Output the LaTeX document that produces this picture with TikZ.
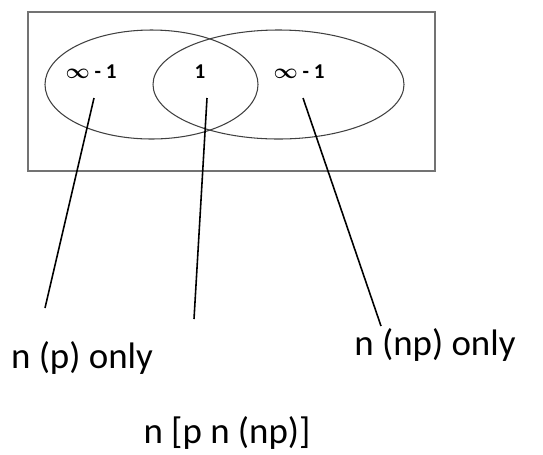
\documentclass[tikz,border=0pt]{standalone}
\usepackage{amsmath, amssymb, bm}
\usepackage{fontspec}
\setmainfont{Carlito}
\usepackage{tikz}
\usetikzlibrary{positioning, calc}

\begin{document}
\begin{tikzpicture}[x=0.02cm, y=-0.02cm,
    setline/.style={draw=black!75, line width=0.6pt},
    regionlabel/.style={font=\fontsize{12}{14}\selectfont\bfseries, inner sep=1pt},
    caption/.style={font=\fontsize{21}{24}\selectfont, inner sep=1pt},
    pointer/.style={draw=black, line width=0.9pt}]
  \useasboundingbox (0,0) rectangle (543,454);
  \draw[draw=black!55, line width=0.7pt] (28,12) rectangle (435,171);
  \draw[setline] (151.5,84.5) ellipse [x radius=106.5, y radius=54.5];
  \draw[setline] (278.5,84.5) ellipse [x radius=125.5, y radius=54.5];

  \node[regionlabel] (ponly) at (91,72) {$\bm{\infty}$ - 1};
  \node[regionlabel] (both) at (200,72) {1};
  \node[regionlabel] (nponly) at (299,72) {$\bm{\infty}$ - 1};

  \node[caption] (pcap) at (82,358) {n (p) only};
  \node[caption] (npcap) at (435,345) {n (np) only};
  \node[caption] (bothcap) at (227,433) {n [p n (np)]};

  \coordinate (pa) at (94,98);    \coordinate (pb) at (45,308);
  \coordinate (ba) at (207,98);   \coordinate (bb) at (194,319);
  \coordinate (na) at (303,98);   \coordinate (nb) at (381,326);
  \draw[pointer] (pa) -- (pb);
  \draw[pointer] (ba) -- (bb);
  \draw[pointer] (na) -- (nb);
\end{tikzpicture}
\end{document}
